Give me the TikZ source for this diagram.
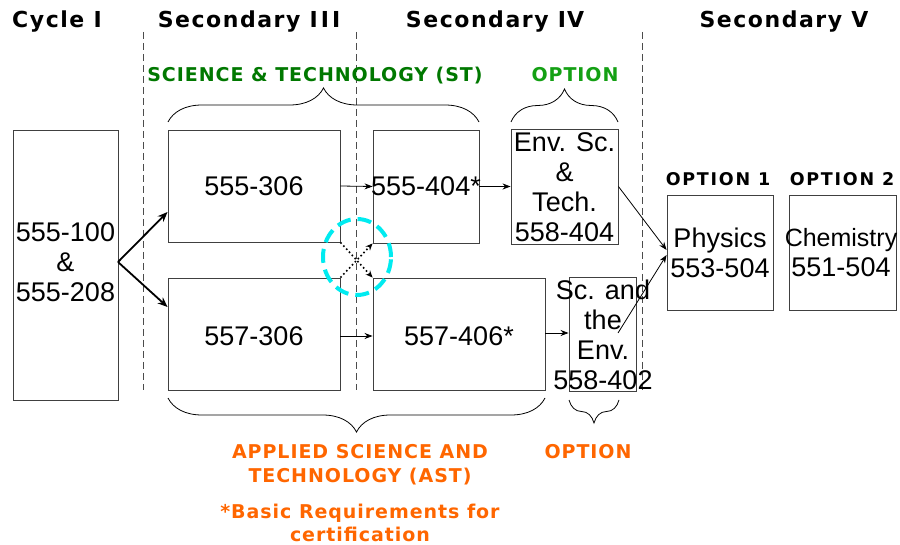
\documentclass[tikz,border=0pt]{standalone}
\usepackage{fontspec}
\setmainfont{Liberation Sans}
\newfontfamily\hdrfont[LetterSpace=7]{DejaVu Sans}
\newfontfamily\lblfont[LetterSpace=5]{DejaVu Sans}
\newfontfamily\optfont[LetterSpace=10]{DejaVu Sans}
\usetikzlibrary{decorations.pathreplacing,arrows.meta,shapes.geometric}
\definecolor{stgreen}{RGB}{0,120,0}
\definecolor{optgreen}{RGB}{20,160,20}
\definecolor{astorange}{RGB}{255,102,0}
\definecolor{ringcyan}{RGB}{0,235,240}
\definecolor{boxgray}{RGB}{64,64,64}
\begin{document}
\begin{tikzpicture}[x=1pt,y=-1pt,
  boxshape/.style={draw=boxgray,line width=0.9pt,inner sep=0pt,rectangle},
  boxtext/.style={font=\fontsize{27}{30}\selectfont,align=center,inner sep=0pt},
  header/.style={font=\hdrfont\bfseries\fontsize{22}{24}\selectfont,anchor=base,inner sep=0pt},
  lbl/.style={font=\lblfont\bfseries\fontsize{19}{24}\selectfont,anchor=base,inner sep=0pt},
  optlbl/.style={font=\optfont\bfseries\fontsize{17.5}{20}\selectfont,anchor=base,inner sep=0pt},
  divider/.style={draw=black!70,line width=0.8pt,dash pattern=on 7pt off 4pt},
  arr/.style={-{Stealth[length=8pt,width=6pt]},line width=0.8pt},
  bigarr/.style={-{Stealth[length=10pt,width=8pt]},line width=1.8pt},
  dotarr/.style={-{Stealth[length=7pt,width=6pt]},line width=1.6pt,dash pattern=on 1.6pt off 2.6pt},
  brc/.style={decorate,decoration={brace,amplitude=#1,aspect=0.5},line width=0.8pt},
  ring/.style={draw=ringcyan,line width=4pt,dash pattern=on 14pt off 7pt}
]
\useasboundingbox (0,0) rectangle (900,545);

% dashed dividers
\coordinate (d1t) at (143,32); \coordinate (d1b) at (143,390);
\coordinate (d2t) at (356,32); \coordinate (d2b) at (356,390);
\coordinate (d3t) at (642,32); \coordinate (d3b) at (642,390);
\draw[divider] (d1t) -- (d1b);
\draw[divider] (d2t) -- (d2b);
\draw[divider] (d3t) -- (d3b);

% headers
\node[header,anchor=base west] (h1) at (12,28) {Cycle I};
\node[header] (h2) at (249,28) {Secondary I\kern3pt I\kern3pt I};
\node[header] (h3) at (495,28) {Secondary I\kern1pt V};
\node[header] (h4) at (784,28) {Secondary V};

% boxes
\node[boxshape,minimum width=105pt,minimum height=270pt] (c1) at (65.5,265) {};
\node[boxshape,minimum width=172pt,minimum height=112pt] (s3a) at (254,186) {};
\node[boxshape,minimum width=106pt,minimum height=113pt] (s4a) at (426,186.5) {};
\node[boxshape,minimum width=107pt,minimum height=115pt] (env) at (564.5,186.5) {};
\node[boxshape,minimum width=172pt,minimum height=112pt] (s3b) at (254,334) {};
\node[boxshape,minimum width=172pt,minimum height=112pt] (s4b) at (459,334) {};
\node[boxshape,minimum width=67pt,minimum height=114pt] (sce) at (602.5,334) {};
\node[boxshape,minimum width=106pt,minimum height=115pt] (phy) at (720,252.5) {};
\node[boxshape,minimum width=107pt,minimum height=115pt] (chem) at (842.5,252.5) {};

% box texts
\node[boxtext] (c1t) at (65.5,262) {555-100\\\&\\555-208};
\node[boxtext] (s3at) at (s3a.center) {555-306};
\node[boxtext] (s4at) at (s4a.center) {555-404*};
\node[boxtext] (envt) at (564.5,187) {Env. Sc.\\\&\\Tech.\\558-404};
\node[boxtext] (s3bt) at (254,336) {557-306};
\node[boxtext] (s4bt) at (459,336) {557-406*};
\node[boxtext] (scet) at (603,335) {Sc. and\\the\\Env.\\558-402};
\node[boxtext] (phyt) at (720,253) {Physics\\553-504};
\node[boxtext,font=\fontsize{25}{30}\selectfont] (chemt) at (841,253) {Chemistry\\\fontsize{27}{30}\selectfont 551-504};

% labels
\node[lbl,text=stgreen] (st) at (315,82) {SCIENCE \& TECHNOLOGY (ST)};
\node[lbl,text=optgreen] (opt1) at (575,82) {OPTION};
\node[optlbl] (o1) at (718,186) {OPTION 1};
\node[optlbl] (o2) at (842,186) {OPTION 2};
\node[lbl,text=astorange] (ast1) at (360,458) {APPLIED SCIENCE AND};
\node[lbl,text=astorange] (ast2) at (360,482) {TECHNOLOGY (AST)};
\node[lbl,text=astorange] (opt2) at (588,458) {OPTION};
\node[lbl,text=astorange] (req1) at (360,518) {*Basic Requirements for};
\node[lbl,text=astorange] (req2) at (360,541) {certification};

% braces
\coordinate (b1l) at (168,122); \coordinate (b1r) at (479,122);
\coordinate (b2l) at (511,122); \coordinate (b2r) at (618,122);
\coordinate (b3l) at (168,398); \coordinate (b3r) at (545,398);
\coordinate (b4l) at (569,400); \coordinate (b4r) at (619,400);
\draw[brc=34pt] (b1l) -- (b1r);
\draw[brc=33pt] (b2l) -- (b2r);
\draw[brc=34pt] (b3r) -- (b3l);
\draw[brc=23pt] (b4r) -- (b4l);

% arrows
\coordinate (fork) at (118,262);
\draw[bigarr] (fork) -- ([yshift=-26pt]s3a.west);
\draw[bigarr] (fork) -- ([yshift=27pt]s3b.west);
\draw[arr] (s3a.east) -- (s4a.west);
\draw[arr] (s4a.east) -- (env.west);
\draw[arr] ([yshift=-2pt]s3b.east) -- ([yshift=-2pt]s4b.west);
\draw[arr] ([yshift=1pt]s4b.east) -- ([yshift=1pt]sce.west);
\draw[arr] (env.east) -- ([yshift=2.5pt]phy.west);
\coordinate (scx) at (618,333);
\draw[arr] (scx) -- ([yshift=-2.5pt]phy.west);
\draw[dotarr] (s3a.south east) -- (s4b.north west);
\draw[dotarr] (s3b.north east) -- (s4a.south west);

% highlight ring
\node[ring,ellipse,minimum width=68pt,minimum height=76pt,inner sep=0pt] (ringnode) at (357,257) {};
\end{tikzpicture}
\end{document}
